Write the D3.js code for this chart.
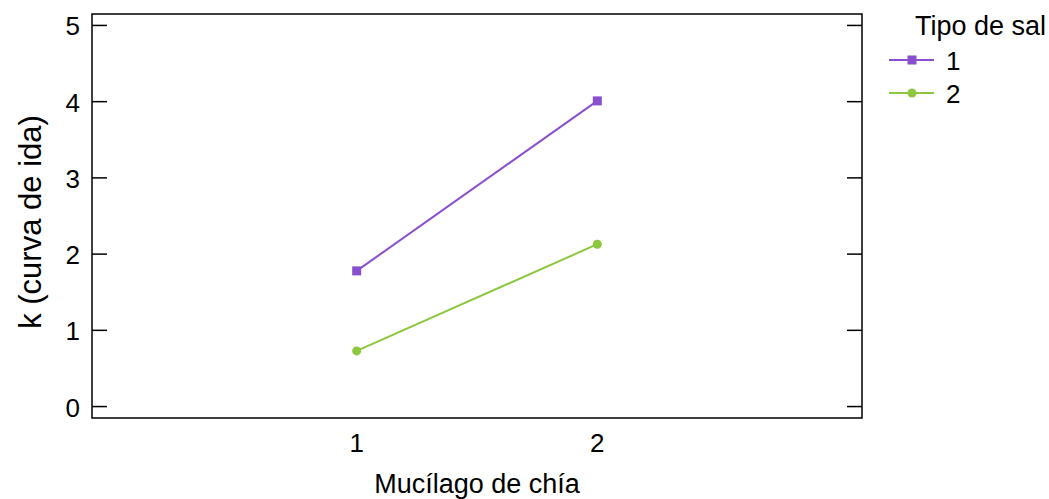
<!DOCTYPE html>
<html>
<head>
<meta charset="utf-8">
<script src="https://cdn.jsdelivr.net/npm/d3@7"></script>
<style>
  body { margin: 0; background: #fff; }
  svg text { font-family: "Liberation Sans", Arial, sans-serif; fill: #000; }
</style>
</head>
<body>
<svg id="chart" width="1049" height="499"></svg>
<script>
// data
const xCats = [1, 2];
const yTicks = [0, 1, 2, 3, 4, 5];
const seriesNames = ["1", "2"];
const sal1 = [1.78, 4.01];
const sal2 = [0.73, 2.13];
const colors = ["#8a4fcf", "#8dc63f"];

const svg = d3.select("#chart");
const box = { left: 92, right: 862, top: 14, bottom: 418 };
const fs = "26px";

const x = d3.scaleLinear().domain([-0.1, 3.1]).range([box.left, box.right]);
const y = d3.scaleLinear().domain([-0.15, 5.15]).range([box.bottom, box.top]);

// frame
svg.append("rect")
  .attr("x", box.left).attr("y", box.top)
  .attr("width", box.right - box.left).attr("height", box.bottom - box.top)
  .attr("fill", "none").attr("stroke", "#000").attr("stroke-width", 1.5);

// y ticks, mirrored on both sides and pointing inward
const tickLen = 15;
yTicks.forEach(t => {
  svg.append("line")
    .attr("x1", box.left).attr("x2", box.left + tickLen)
    .attr("y1", y(t)).attr("y2", y(t))
    .attr("stroke", "#000").attr("stroke-width", 1.5);
  svg.append("line")
    .attr("x1", box.right - tickLen).attr("x2", box.right)
    .attr("y1", y(t)).attr("y2", y(t))
    .attr("stroke", "#000").attr("stroke-width", 1.5);
  svg.append("text")
    .attr("x", 80).attr("y", y(t) + 10)
    .attr("text-anchor", "end")
    .attr("font-size", fs)
    .text(t);
});

// x labels
xCats.forEach(c => {
  svg.append("text")
    .attr("x", x(c)).attr("y", 452)
    .attr("text-anchor", "middle")
    .attr("font-size", fs)
    .text(c);
});

// axis titles
svg.append("text")
  .attr("x", x(1.5)).attr("y", 493)
  .attr("text-anchor", "middle")
  .attr("font-size", "27px")
  .text("Mucílago de chía");

svg.append("text")
  .attr("transform", `translate(41, 222) rotate(-90)`)
  .attr("text-anchor", "middle")
  .attr("font-size", "31px")
  .text("k (curva de ida)");

// series
const line = d3.line().x((d, i) => x(xCats[i])).y(d => y(d));

function drawMarker(g, kind, cx, cy, color) {
  if (kind === 0) {
    g.append("rect")
      .attr("x", cx - 4.5).attr("y", cy - 4.5)
      .attr("width", 9).attr("height", 9)
      .attr("fill", color);
  } else {
    g.append("circle")
      .attr("cx", cx).attr("cy", cy).attr("r", 4.5)
      .attr("fill", color);
  }
}

[sal1, sal2].forEach((vals, k) => {
  svg.append("path")
    .attr("d", line(vals))
    .attr("fill", "none")
    .attr("stroke", colors[k])
    .attr("stroke-width", 2);
  vals.forEach((v, i) => drawMarker(svg, k, x(xCats[i]), y(v), colors[k]));
});

// legend
svg.append("text")
  .attr("x", 915).attr("y", 35)
  .attr("font-size", "27px")
  .text("Tipo de sal");

seriesNames.forEach((name, k) => {
  const ly = 60 + k * 33;
  svg.append("line")
    .attr("x1", 889).attr("x2", 934)
    .attr("y1", ly).attr("y2", ly)
    .attr("stroke", colors[k]).attr("stroke-width", 2);
  drawMarker(svg, k, 912, ly, colors[k]);
  svg.append("text")
    .attr("x", 946).attr("y", ly + 10)
    .attr("font-size", fs)
    .text(name);
});
</script>
</body>
</html>
